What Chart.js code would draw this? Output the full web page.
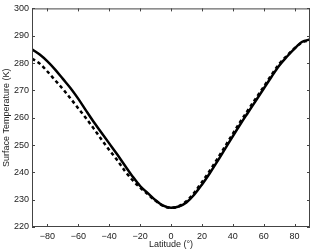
<!DOCTYPE html>
<html lang="en">
<head>
  <meta charset="UTF-8">
  <title>Surface Temperature</title>
  <style>
    html, body { margin: 0; padding: 0; background: #fff; }
    #chart { display: block; }
  </style>
</head>
<body>
<canvas id="chart" width="313" height="251"></canvas>
<script src="https://cdn.jsdelivr.net/npm/chart.js"></script>
<script>
  // latitude (deg)
  const lats = [-90, -85, -80, -75, -70, -65, -60, -55, -50, -45, -40, -35, -30, -25, -20, -15, -10, -5,
                0, 5, 10, 15, 20, 25, 30, 35, 40, 45, 50, 55, 60, 65, 70, 75, 80, 85, 90];
  // solid line
  const tempSolid = [285.0, 283.1, 280.6, 277.6, 274.2, 270.8, 266.9, 262.6, 258.4, 254.5, 250.6, 246.7, 242.6, 238.6, 235.0, 232.4, 229.8, 227.8,
                     227.0, 227.5, 229.0, 231.8, 235.5, 239.6, 244.0, 248.6, 253.2, 257.7, 262.0, 266.3, 270.6, 274.9, 279.0, 282.3, 285.3, 287.8, 288.6];
  // dashed line
  const tempDashed = [281.6, 279.8, 276.9, 273.7, 270.5, 267.0, 263.4, 259.8, 256.0, 252.0, 248.2, 244.6, 240.6, 237.2, 234.4, 232.0, 229.6, 227.7,
                      227.0, 227.6, 229.4, 232.5, 236.4, 240.5, 244.9, 249.5, 254.1, 258.6, 262.9, 267.1, 271.3, 275.6, 279.6, 282.7, 285.4, 287.6, 288.3];

  const xTicks = [-80, -60, -40, -20, 0, 20, 40, 60, 80];
  const yTicks = [220, 230, 240, 250, 260, 270, 280, 290, 300];

  const axisColor = '#444';
  const textColor = '#222';
  const fnt = { family: 'Liberation Sans, Arial, sans-serif', size: 9 };

  // box round the plot and ticks pointing inwards, like the original
  const boxPlugin = {
    id: 'box',
    afterDraw(chart) {
      const c = chart.ctx;
      const a = chart.chartArea;
      const sx = chart.scales.x, sy = chart.scales.y;
      c.save();
      c.strokeStyle = axisColor;
      c.lineWidth = 1;
      c.strokeRect(a.left + 0.5, a.top + 0.5, a.right - a.left - 1, a.bottom - a.top - 1);
      c.beginPath();
      xTicks.forEach(v => {
        const p = Math.round(sx.getPixelForValue(v)) + 0.5;
        c.moveTo(p, a.bottom); c.lineTo(p, a.bottom - 3);
        c.moveTo(p, a.top); c.lineTo(p, a.top + 3);
      });
      yTicks.forEach(v => {
        const p = Math.round(sy.getPixelForValue(v)) + 0.5;
        c.moveTo(a.left, p); c.lineTo(a.left + 3, p);
        c.moveTo(a.right, p); c.lineTo(a.right - 3, p);
      });
      c.stroke();
      c.restore();
    }
  };

  const ctx = document.getElementById('chart');
  new Chart(ctx, {
    type: 'line',
    data: {
      datasets: [
        {
          label: 'solid',
          data: lats.map((v, i) => ({ x: v, y: tempSolid[i] })),
          borderColor: '#000',
          borderWidth: 2.5,
          pointRadius: 0,
          cubicInterpolationMode: 'monotone',
          fill: false
        },
        {
          label: 'dashed',
          data: lats.map((v, i) => ({ x: v, y: tempDashed[i] })),
          borderColor: '#000',
          borderWidth: 2.5,
          borderDash: [3.5, 3],
          pointRadius: 0,
          cubicInterpolationMode: 'monotone',
          fill: false
        }
      ]
    },
    options: {
      responsive: false,
      animation: false,
      devicePixelRatio: 1,
      layout: { padding: { top: 6, right: 3, left: 0, bottom: 0 } },
      plugins: {
        legend: { display: false },
        tooltip: { enabled: false }
      },
      scales: {
        x: {
          type: 'linear',
          min: -90,
          max: 90,
          grid: { display: false, drawTicks: false, tickLength: 0 },
          border: { display: false },
          afterBuildTicks: s => { s.ticks = xTicks.map(v => ({ value: v })); },
          afterFit: s => { s.height = 24; },
          ticks: { color: textColor, font: fnt, padding: 4, maxRotation: 0,
                   callback: v => (v < 0 ? '\u2212' + Math.abs(v) : '' + v) },
          title: { display: true, text: 'Latitude (°)', color: textColor, font: fnt, padding: { top: 0, bottom: 1 } }
        },
        y: {
          type: 'linear',
          min: 220,
          max: 300,
          grid: { display: false, drawTicks: false, tickLength: 0 },
          border: { display: false },
          afterBuildTicks: s => { s.ticks = yTicks.map(v => ({ value: v })); },
          afterFit: s => { s.width = 32; },
          ticks: { color: textColor, font: fnt, padding: 3 },
          title: { display: true, text: 'Surface Temperature (K)', color: textColor, font: fnt, padding: { top: 1, bottom: 0 } }
        }
      }
    },
    plugins: [boxPlugin]
  });
</script>
</body>
</html>
